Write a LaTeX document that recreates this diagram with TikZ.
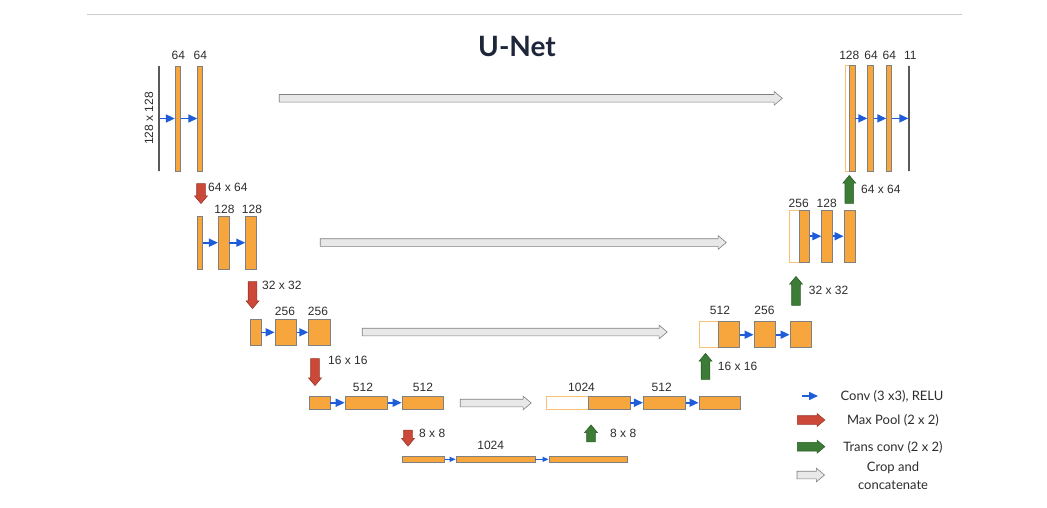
\documentclass[tikz,border=0pt]{standalone}
\usepackage{fontspec}
\setmainfont{Liberation Sans}
\newfontfamily\latofont{Lato}
\usetikzlibrary{arrows.meta,positioning,shapes.arrows}
\definecolor{mapfill}{RGB}{246,166,60}
\definecolor{mapdraw}{RGB}{128,128,128}
\definecolor{convblue}{RGB}{30,92,218}
\definecolor{poolred}{RGB}{204,72,56}
\definecolor{upgreen}{RGB}{60,124,54}
\definecolor{cropgray}{RGB}{232,232,232}
\definecolor{titlenavy}{RGB}{30,38,58}
\definecolor{textgray}{RGB}{45,45,45}

\begin{document}
\begin{tikzpicture}[x=1pt, y=-1pt,
  fmap/.style={draw=mapdraw, fill=mapfill, line width=0.8pt, inner sep=0pt},
  cropped/.style={draw=mapfill!70, fill=white, line width=0.8pt, inner sep=0pt},
  plane/.style={draw=black!65, line width=1.3pt, inner sep=0pt,
    minimum width=0pt},
  conv/.style={-{Triangle[length=9pt,width=8pt]}, convblue, line width=1.6pt},
  convs/.style={-{Triangle[length=6pt,width=5pt]}, convblue, line width=1pt},
  blockarrow/.style={single arrow, inner xsep=0pt, inner ysep=4pt,
    minimum width=0pt, single arrow head extend=2.2pt,
    single arrow tip angle=80, line width=0.6pt},
  pool/.style={blockarrow, fill=poolred, draw=poolred!75!black},
  upconv/.style={blockarrow, fill=upgreen, draw=upgreen!75!black},
  crop/.style={blockarrow, fill=cropgray, draw=black!50, inner ysep=3.5pt,
    single arrow head extend=3pt},
  chan/.style={font=\fontsize{12}{14}\selectfont, inner sep=1pt, text=textgray},
  size/.style={chan, anchor=west},
  legtext/.style={font=\latofont\fontsize{13}{18}\selectfont, align=center,
    text=textgray},
]
  \fill[white] (0,0) rectangle (1047,507);
  \useasboundingbox (0,0) rectangle (1047,507);
  % Title and top rule
  \draw[black!20, line width=0.8pt] (87,14) -- (962,14);
  \node[font=\latofont\bfseries\fontsize{28}{30}\selectfont, text=titlenavy]
    (title) at (517,46) {U-Net};

  % Encoder, level 1
  \node[plane, minimum height=105pt] (in) at (159,118.5) {};
  \node[fmap, minimum width=5.5pt, minimum height=105pt] (e1a) at (178,118.5) {};
  \node[fmap, minimum width=5pt, minimum height=105pt] (e1b) at (200.2,118.5) {};
  \node[chan, rotate=90] (in-size) at (149,118.5) {128 x 128};
  \node[chan] (e1a-ch) at (178.3,55.5) {64};
  \node[chan] (e1b-ch) at (200.3,55.5) {64};
  \draw[conv] (in.east) -- (e1a.west);
  \draw[conv] (e1a.east) -- (e1b.west);
  \node[pool, minimum height=20pt, rotate=-90] (pool1) at (201,191) {};
  \node[size] (pool1-size) at (207,187) {64 x 64};

  % Encoder, level 2
  \node[fmap, minimum width=5pt, minimum height=53pt] (e2a) at (200.3,242.7) {};
  \node[fmap, minimum width=10.7pt, minimum height=53pt] (e2b) at (223.7,242.7) {};
  \node[fmap, minimum width=10.3pt, minimum height=53pt] (e2c) at (250.8,242.7) {};
  \node[chan] (e2b-ch) at (224.5,209.5) {128};
  \node[chan] (e2c-ch) at (252,209.5) {128};
  \draw[conv] (e2a.east) -- (e2b.west);
  \draw[conv] (e2b.east) -- (e2c.west);
  \node[pool, minimum height=27pt, rotate=-90] (pool2) at (252.5,292.5) {};
  \node[size] (pool2-size) at (261,285) {32 x 32};

  % Encoder, level 3
  \node[fmap, minimum width=11pt, minimum height=26.7pt] (e3a) at (255.5,332.3) {};
  \node[fmap, minimum width=21.7pt, minimum height=26.7pt] (e3b) at (285.8,332.3) {};
  \node[fmap, minimum width=21.3pt, minimum height=26.7pt] (e3c) at (319.3,332.3) {};
  \node[chan] (e3b-ch) at (285,311) {256};
  \node[chan] (e3c-ch) at (318,311) {256};
  \draw[conv] (e3a.east) -- (e3b.west);
  \draw[conv] (e3b.east) -- (e3c.west);
  \node[pool, minimum height=27pt, rotate=-90] (pool3) at (315,369.5) {};
  \node[size] (pool3-size) at (327,360) {16 x 16};

  % Encoder, level 4
  \node[fmap, minimum width=21pt, minimum height=13.3pt] (e4a) at (319.5,402.7) {};
  \node[fmap, minimum width=42.3pt, minimum height=13.3pt] (e4b) at (366.2,402.7) {};
  \node[fmap, minimum width=41.7pt, minimum height=13.3pt] (e4c) at (422.8,402.7) {};
  \node[chan] (e4b-ch) at (363,387.7) {512};
  \node[chan] (e4c-ch) at (423,387.7) {512};
  \draw[conv] (e4a.east) -- (e4b.west);
  \draw[conv] (e4b.east) -- (e4c.west);
  \node[pool, minimum height=16pt, rotate=-90] (pool4) at (408,435.5) {};
  \node[size] (pool4-size) at (418,433) {8 x 8};

  % Bottleneck
  \node[fmap, minimum width=42.3pt, minimum height=6.7pt] (b5a) at (423.2,459.3) {};
  \node[fmap, minimum width=79pt, minimum height=6.7pt] (b5b) at (495.5,459.3) {};
  \node[fmap, minimum width=78.7pt, minimum height=6.7pt] (b5c) at (588.3,459.3) {};
  \node[chan] (b5b-ch) at (490.7,445) {1024};
  \draw[convs] (b5a.east) -- (b5b.west);
  \draw[convs] (b5b.east) -- (b5c.west);
  \node[upconv, minimum height=17pt, rotate=90] (up4) at (591,436) {};
  \node[size] (up4-size) at (609,433) {8 x 8};

  % Decoder, level 4
  \node[cropped, minimum width=41.6pt, minimum height=13.3pt] (d4w) at (567.5,402.7) {};
  \node[fmap, minimum width=41.7pt, minimum height=13.3pt] (d4a) at (609.2,402.7) {};
  \node[fmap, minimum width=42.4pt, minimum height=13.3pt] (d4b) at (664.5,402.7) {};
  \node[fmap, minimum width=41.7pt, minimum height=13.3pt] (d4c) at (719.8,402.7) {};
  \node[chan] (d4a-ch) at (581.5,387) {1024};
  \node[chan] (d4b-ch) at (661.7,387) {512};
  \draw[conv] (d4a.east) -- (d4b.west);
  \draw[conv] (d4b.east) -- (d4c.west);
  \node[upconv, minimum height=26pt, rotate=90] (up3) at (705.5,369) {};
  \node[size] (up3-size) at (716.7,366) {16 x 16};

  % Decoder, level 3
  \node[cropped, minimum width=19.3pt, minimum height=26pt] (d3w) at (708.7,334.7) {};
  \node[fmap, minimum width=21pt, minimum height=26pt] (d3a) at (728.8,334.7) {};
  \node[fmap, minimum width=21.7pt, minimum height=26pt] (d3b) at (764.8,334.7) {};
  \node[fmap, minimum width=21.7pt, minimum height=26pt] (d3c) at (800.8,334.7) {};
  \node[chan] (d3a-ch) at (720,310.7) {512};
  \node[chan] (d3b-ch) at (764.5,310.7) {256};
  \draw[conv] (d3a.east) -- (d3b.west);
  \draw[conv] (d3b.east) -- (d3c.west);
  \node[upconv, minimum height=29pt, rotate=90] (up2) at (796,293.5) {};
  \node[size] (up2-size) at (807.7,290) {32 x 32};

  % Decoder, level 2
  \node[cropped, minimum width=9.7pt, minimum height=52.3pt] (d2w) at (794.2,236.2) {};
  \node[fmap, minimum width=10.3pt, minimum height=52.3pt] (d2a) at (804.2,236.2) {};
  \node[fmap, minimum width=10.6pt, minimum height=52.3pt] (d2b) at (827,236.2) {};
  \node[fmap, minimum width=11pt, minimum height=52.3pt] (d2c) at (849.5,236.2) {};
  \node[chan] (d2a-ch) at (798.7,203.3) {256};
  \node[chan] (d2b-ch) at (826.7,203.3) {128};
  \draw[conv] (d2a.east) -- (d2b.west);
  \draw[conv] (d2b.east) -- (d2c.west);
  \node[upconv, minimum height=28pt, rotate=90] (up1) at (849.3,192) {};
  \node[size] (up1-size) at (860,189) {64 x 64};

  % Decoder, level 1
  \node[cropped, minimum width=4.3pt, minimum height=105.3pt] (d1w) at (847.2,118.4) {};
  \node[fmap, minimum width=5.7pt, minimum height=105.3pt] (d1a) at (852.2,118.4) {};
  \node[fmap, minimum width=5.6pt, minimum height=105.3pt] (d1b) at (870.5,118.4) {};
  \node[fmap, minimum width=5pt, minimum height=105.3pt] (d1c) at (889.2,118.4) {};
  \node[plane, minimum height=105.3pt] (out) at (909,118.4) {};
  \node[chan] (d1a-ch) at (849.3,55.5) {128};
  \node[chan] (d1b-ch) at (871,55.5) {64};
  \node[chan] (d1c-ch) at (889.3,55.5) {64};
  \node[chan] (out-ch) at (910.3,55.5) {11};
  \draw[conv] (d1a.east) -- (d1b.west);
  \draw[conv] (d1b.east) -- (d1c.west);
  \draw[conv] (d1c.east) -- (out.west);

  % Skip connections
  \node[crop, minimum height=503pt] (skip1) at (528.5,98.3) {};
  \node[crop, minimum height=406pt] (skip2) at (521,242.5) {};
  \node[crop, minimum height=305pt] (skip3) at (512.5,332) {};
  \node[crop, minimum height=71pt] (skip4) at (493.5,403) {};

  % Legend
  \coordinate (key-conv-a) at (802,396);
  \coordinate (key-conv-b) at (818,396);
  \draw[conv] (key-conv-a) -- (key-conv-b);
  \node[pool, minimum height=27.5pt] (key-pool) at (808.5,420) {};
  \node[upconv, minimum height=27.5pt] (key-up) at (808.5,446.7) {};
  \node[crop, minimum height=27.5pt] (key-crop) at (808.5,475) {};
  \node[legtext] (key-conv-txt) at (892,396) {Conv (3 x3), RELU};
  \node[legtext] (key-pool-txt) at (893,420) {Max Pool (2 x 2)};
  \node[legtext] (key-up-txt) at (893,447) {Trans conv (2 x 2)};
  \node[legtext] (key-crop-txt) at (893,476) {Crop and\\concatenate};
\end{tikzpicture}
\end{document}
